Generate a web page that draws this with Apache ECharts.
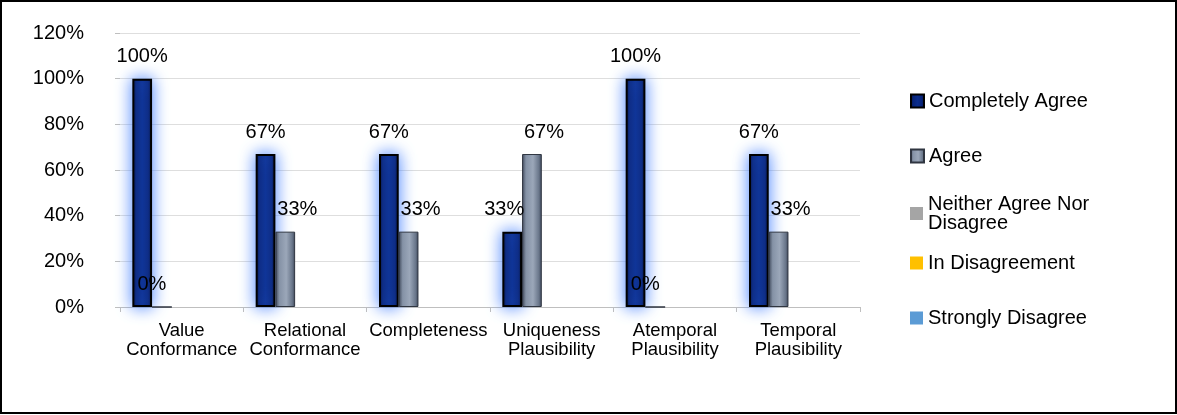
<!DOCTYPE html>
<html>
<head>
<meta charset="utf-8">
<script src="https://cdn.jsdelivr.net/npm/echarts@6/dist/echarts.min.js"></script>
<style>
  html, body { margin: 0; padding: 0; background: #fff; }
  #chart { width: 1177px; height: 415px; }
</style>
</head>
<body>
<div id="chart"></div>
<script>
// Survey results per data-quality dimension (percent of respondents)
const categories = [
  'Value\nConformance',
  'Relational\nConformance',
  'Completeness',
  'Uniqueness\nPlausibility',
  'Atemporal\nPlausibility',
  'Temporal\nPlausibility'
];
const seriesNames = [
  'Completely Agree',
  'Agree',
  'Neither Agree Nor Disagree',
  'In Disagreement',
  'Strongly Disagree'
];
const completelyAgree = [100, 67, 67, 33, 100, 67];
const agree = [0, 33, 33, 67, 0, 33];
const neitherAgree = [0, 0, 0, 0, 0, 0];
const inDisagreement = [0, 0, 0, 0, 0, 0];
const stronglyDisagree = [0, 0, 0, 0, 0, 0];
const yTicks = [0, 20, 40, 60, 80, 100, 120];

const FONT = '"Liberation Sans", Arial, sans-serif';

const chart = echarts.init(document.getElementById('chart'));

// Bar fills: bevelled navy and bevelled slate-grey, plus flat fills for the empty series
const navyFill = new echarts.graphic.LinearGradient(0, 0, 1, 0, [
  { offset: 0, color: '#020a33' },
  { offset: 0.2, color: '#072378' },
  { offset: 0.5, color: '#0a2c8c' },
  { offset: 0.8, color: '#072378' },
  { offset: 1, color: '#020a33' }
]);
const slateFill = new echarts.graphic.LinearGradient(0, 0, 1, 0, [
  { offset: 0, color: '#3d4658' },
  { offset: 0.2, color: '#8592a6' },
  { offset: 0.55, color: '#9ba7b9' },
  { offset: 0.85, color: '#6a778b' },
  { offset: 1, color: '#3d4658' }
]);

const values = [completelyAgree, agree, neitherAgree, inDisagreement, stronglyDisagree];
const styles = [
  { color: navyFill, borderColor: '#000', borderWidth: 2,
    shadowColor: 'rgb(70,130,255)', shadowBlur: 16 },
  { color: slateFill, borderColor: '#2f3540', borderWidth: 1 },
  { color: '#a5a5a5' },
  { color: '#ffc000' },
  { color: '#5b9bd5' }
];
const showLabel = [true, true, false, false, false];

// Horizontal nudges that keep neighbouring value labels apart
function labelShift(seriesIdx, catIdx, v) {
  if (seriesIdx === 0) return catIdx === 3 ? -8 : 0;
  if (seriesIdx === 1) return v === 0 ? -10 : 12;
  return 0;
}

const series = seriesNames.map((name, i) => ({
  name: name,
  type: 'bar',
  data: values[i].map((v, j) => ({
    value: v,
    label: { offset: [labelShift(i, j, v), 0] }
  })),
  barGap: '0%',
  barCategoryGap: '20%',
  itemStyle: styles[i],
  label: {
    show: showLabel[i],
    position: 'top',
    distance: 12,
    formatter: '{c}%',
    fontFamily: FONT,
    fontSize: 20,
    color: '#000'
  }
}));

// One legend block per entry so each row sits where the layout needs it
const legendTops = [86, 141, 180, 248, 303];
const legendText = { fontFamily: FONT, fontSize: 20, color: '#000', lineHeight: 19 };
const legends = seriesNames.map((name, i) => ({
  data: [name],
  left: 905,
  top: legendTops[i],
  orient: 'vertical',
  itemWidth: 13,
  itemHeight: 13,
  itemGap: 5,
  icon: 'rect',
  itemStyle: { shadowBlur: 0 },
  formatter: i === 2 ? () => 'Neither Agree Nor\nDisagree' : undefined,
  textStyle: i === 2 ? Object.assign({ padding: [19, 0, 0, 0] }, legendText) : legendText,
  selectedMode: false
}));

chart.setOption({
  animation: false,
  backgroundColor: '#fff',
  graphic: [{
    type: 'rect',
    shape: { x: 1, y: 1, width: 1175, height: 412 },
    style: { fill: 'none', stroke: '#000', lineWidth: 2 },
    z: 100
  }],
  grid: { left: 120, right: 317, top: 33, bottom: 108 },
  legend: legends,
  xAxis: {
    type: 'category',
    data: categories,
    axisLine: { lineStyle: { color: '#bfbfbf', width: 1 } },
    axisTick: { show: true, length: 5, lineStyle: { color: '#bfbfbf' } },
    axisLabel: {
      interval: 0,
      margin: 14,
      fontFamily: FONT,
      fontSize: 18.5,
      lineHeight: 19,
      color: '#000'
    }
  },
  yAxis: {
    type: 'value',
    min: yTicks[0],
    max: yTicks[yTicks.length - 1],
    interval: yTicks[1] - yTicks[0],
    axisLine: { show: false },
    axisTick: { show: true, length: 5, lineStyle: { color: '#bfbfbf' } },
    splitLine: { lineStyle: { color: '#dedede', width: 1 } },
    axisLabel: {
      formatter: '{value}%',
      margin: 36,
      fontFamily: FONT,
      fontSize: 20,
      color: '#000'
    }
  },
  series: series
});
</script>
</body>
</html>
